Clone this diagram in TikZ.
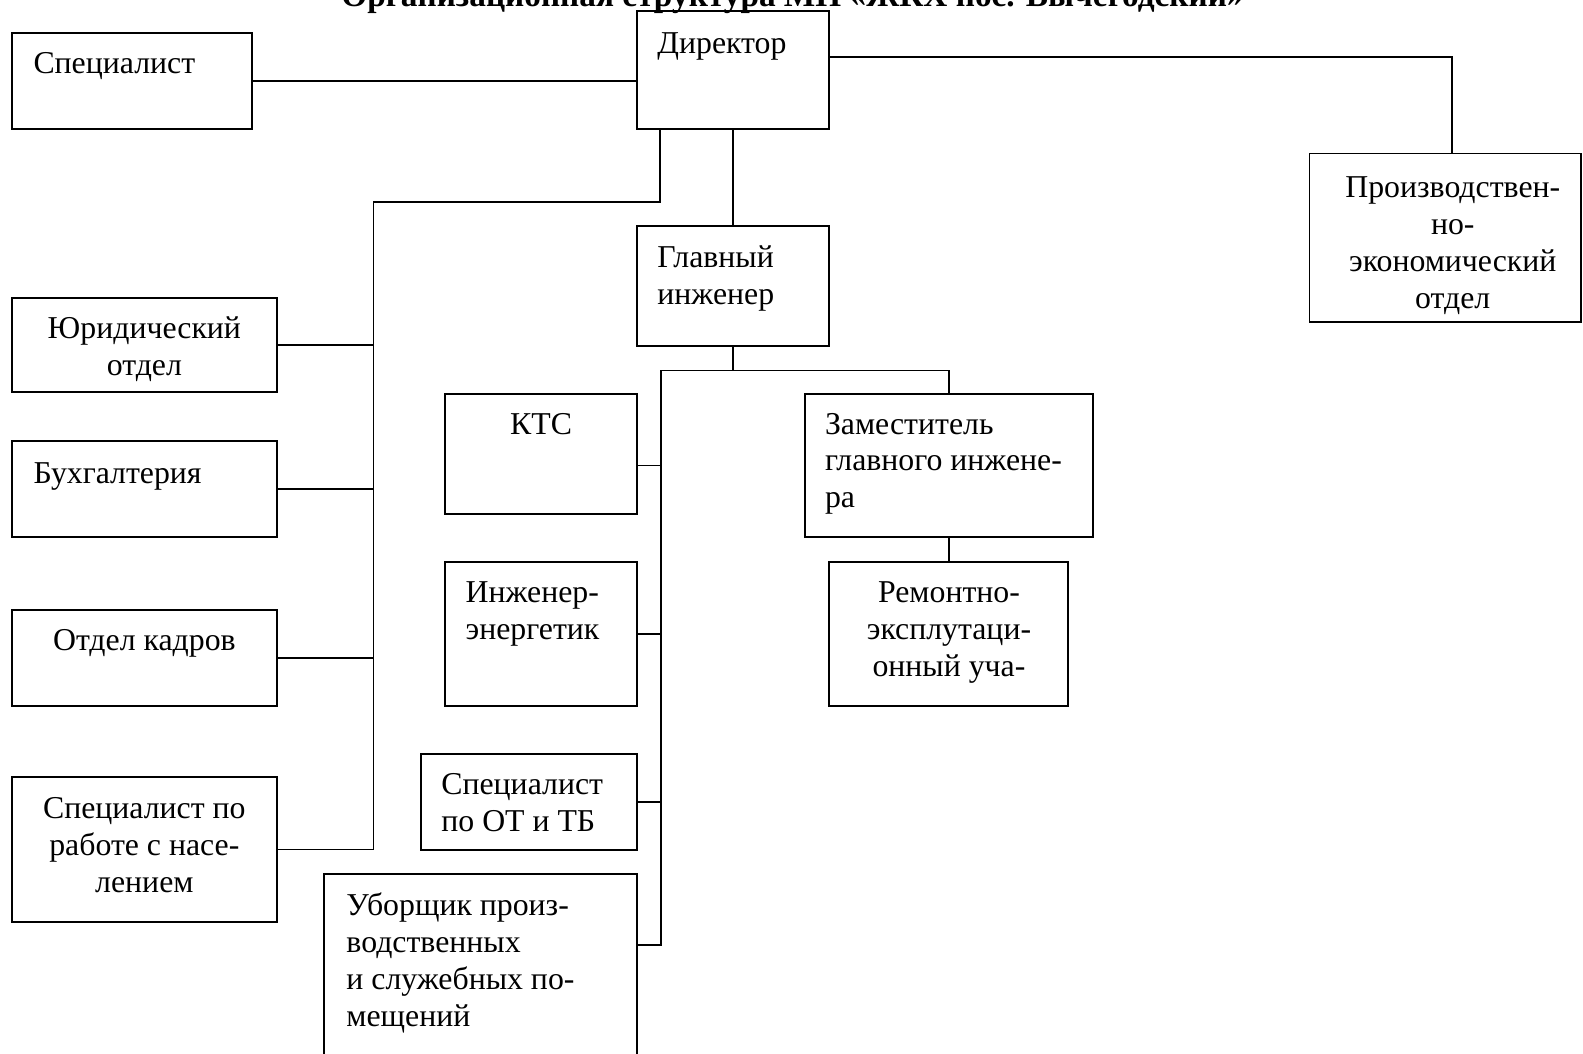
\documentclass[tikz,border=0pt]{standalone}
\usepackage{fontspec}
\setmainfont{Liberation Serif}
\usetikzlibrary{fit,calc}
\newcommand\ltx[1]{\begin{tabular}[t]{@{}l@{}}#1\end{tabular}}
\newcommand\ctx[1]{\begin{tabular}[t]{@{}c@{}}#1\end{tabular}}
\begin{document}
\begin{tikzpicture}[x=1pt,y=-1pt,
  box/.style={draw, line width=1.8pt, inner sep=0pt},
  txt/.style={inner sep=0pt, font=\fontsize{31.5}{36.5}\selectfont},
  conn/.style={line width=1.8pt}]
\useasboundingbox (0,0) rectangle (1568,1044);
\clip (0,0) rectangle (1568,1044);
\fill[white] (0,0) rectangle (1568,1044);
% title (cut at top)
\node[txt, font=\fontsize{33}{38}\selectfont\bfseries, anchor=base] (title) at (785,6) {Организационная структура МП «ЖКХ пос. Вычегодский»};
% boxes
\node[box, fit={(631,11) (821,128)}] (dir) {};
\node[box, fit={(12,33) (250,128)}] (spec) {};
\node[box, fit={(1297,152) (1566,319)}] (prod) {};
\node[box, fit={(631,224) (821,343)}] (glav) {};
\node[box, fit={(12,295) (274,388)}] (jur) {};
\node[box, fit={(12,437) (274,532)}] (buh) {};
\node[box, fit={(12,604) (274,699)}] (kadr) {};
\node[box, fit={(12,770) (274,913)}] (nas) {};
\node[box, fit={(441,390) (631,509)}] (kts) {};
\node[box, fit={(441,557) (631,699)}] (eng) {};
\node[box, fit={(417,747) (631,842)}] (ot) {};
\node[box, fit={(321,866) (631,1060)}] (ubor) {};
\node[box, fit={(797,390) (1083,532)}] (zam) {};
\node[box, fit={(821,557) (1058,699)}] (rem) {};
% texts
\node[txt, anchor=base west] (dir-t) at (651,53) {Директор};
\node[txt, anchor=base west] (spec-t) at (33,73) {Специалист};
\node[txt, anchor=base] (prod-t) at (1439,196) {\ctx{Производствен-\\но-\\экономический\\отдел}};
\node[txt, anchor=base west] (glav-t) at (651,265) {\ltx{Главный\\инженер}};
\node[txt, anchor=base] (jur-t) at (143,335) {\ctx{Юридический\\отдел}};
\node[txt, anchor=base west] (buh-t) at (33,479) {Бухгалтерия};
\node[txt, anchor=base] (kadr-t) at (143,644) {Отдел кадров};
\node[txt, anchor=base] (nas-t) at (143,811) {\ctx{Специалист по\\работе с насе-\\лением}};
\node[txt, anchor=base] (kts-t) at (536,430) {КТС};
\node[txt, anchor=base west] (eng-t) at (461,597) {\ltx{Инженер-\\энергетик}};
\node[txt, anchor=base west] (ot-t) at (437,787) {\ltx{Специалист\\по ОТ и ТБ}};
\node[txt, anchor=base west] (ubor-t) at (343,907) {\ltx{Уборщик произ-\\водственных\\и служебных по-\\мещений}};
\node[txt, anchor=base west] (zam-t) at (817,430) {\ltx{Заместитель\\главного инжене-\\ра}};
\node[txt, anchor=base] (rem-t) at (940,597) {\ctx{Ремонтно-\\эксплутаци-\\онный уча-}};
% connectors
\draw[conn] (spec.east) -- (dir.west |- spec.east);
\coordinate (dirR) at ($(dir.north east)+(0,46)$);
\coordinate (prodT) at ($(prod.north west)+(142,0)$);
\draw[conn] (dirR) -| (prodT);
\coordinate (dirBL) at ($(dir.south west)+(24,0)$);
\coordinate (trunk) at (370,200);
\draw[conn] (dirBL) |- (trunk) |- (nas.east);
\draw[conn] (jur.east) -- (jur.east -| trunk);
\draw[conn] (buh.east) -- (buh.east -| trunk);
\draw[conn] (kadr.east) -- (kadr.east -| trunk);
\draw[conn] (dir.south) -- (glav.north);
\coordinate (hub) at ($(glav.south)+(0,24)$);
\coordinate (trunk2) at (655,367);
\coordinate (ktsC) at ($(kts.north east)+(0,72)$);
\coordinate (uborC) at ($(ubor.north east)+(0,71)$);
\draw[conn] (glav.south) -- (hub);
\draw[conn] (zam.north) |- (trunk2) |- (uborC);
\draw[conn] (ktsC) -- (ktsC -| trunk2);
\draw[conn] (eng.east) -- (eng.east -| trunk2);
\draw[conn] (ot.east) -- (ot.east -| trunk2);
\draw[conn] (zam.south) -- (zam.south |- rem.north);
\end{tikzpicture}
\end{document}
